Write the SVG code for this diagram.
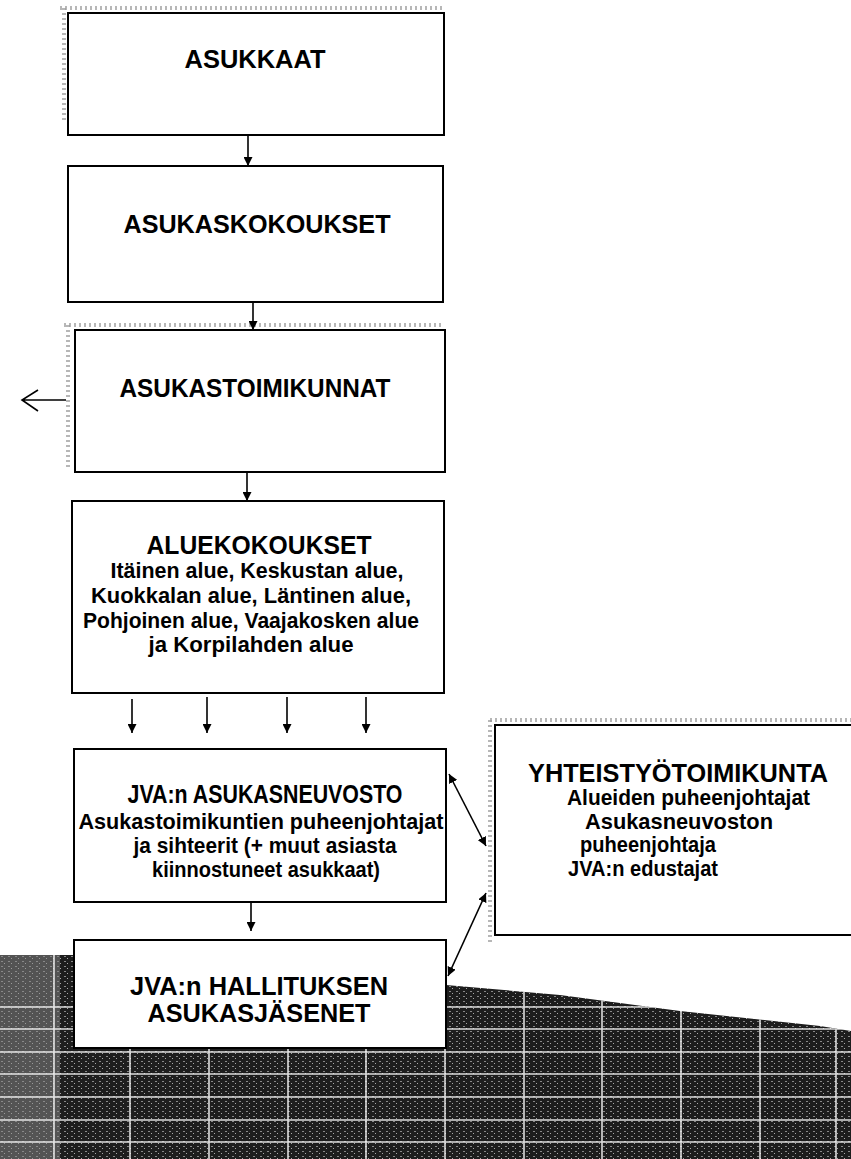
<svg xmlns="http://www.w3.org/2000/svg" width="851" height="1159" viewBox="0 0 851 1159">
<style>
.box{fill:#fff;stroke:#000;stroke-width:2}
.t{font-family:"Liberation Sans",Arial,sans-serif;font-weight:bold;fill:#000}
.c{text-anchor:middle}
.big{font-size:25px}
.sm{font-size:22px}
.ln{stroke:#000;stroke-width:1.6;fill:none}
.noise{stroke:#999;stroke-width:4;stroke-dasharray:2 3;fill:none;opacity:.7}
.grid{stroke:#fff;stroke-width:1.6;opacity:.85}
</style>
<defs>
<marker id="ah" viewBox="0 0 10 10" refX="10" refY="5" markerWidth="9" markerHeight="9" markerUnits="userSpaceOnUse" orient="auto-start-reverse">
<path d="M0,0 L10,5 L0,10 Z" fill="#000"/>
</marker>
<pattern id="speck" width="7" height="5" patternUnits="userSpaceOnUse">
<rect width="7" height="5" fill="#1e1e1e"/>
<rect x="1" y="1" width="2" height="1" fill="#888"/>
<rect x="4" y="3" width="1" height="1" fill="#aaa"/>
</pattern>
<clipPath id="texclip">
<polygon points="0,955 446,955 446,985 560,995 680,1011 820,1026 851,1031 851,1159 0,1159"/>
</clipPath>
</defs>

<g id="texture" clip-path="url(#texclip)">
<rect x="0" y="950" width="851" height="209" fill="url(#speck)"/>
<rect x="0" y="950" width="60" height="209" fill="#8a8a8a" opacity=".5"/>
<g class="grid">
<line x1="0" y1="1007" x2="851" y2="1007"/>
<line x1="0" y1="1029" x2="851" y2="1029"/>
<line x1="0" y1="1052" x2="851" y2="1052"/>
<line x1="0" y1="1074" x2="851" y2="1074"/>
<line x1="0" y1="1097" x2="851" y2="1097"/>
<line x1="0" y1="1120" x2="851" y2="1120"/>
<line x1="0" y1="1142" x2="851" y2="1142"/>
<line x1="54" y1="950" x2="54" y2="1159"/>
<line x1="130" y1="950" x2="130" y2="1159"/>
<line x1="209" y1="950" x2="209" y2="1159"/>
<line x1="288" y1="950" x2="288" y2="1159"/>
<line x1="366" y1="950" x2="366" y2="1159"/>
<line x1="445" y1="950" x2="445" y2="1159"/>
<line x1="524" y1="950" x2="524" y2="1159"/>
<line x1="602" y1="950" x2="602" y2="1159"/>
<line x1="681" y1="950" x2="681" y2="1159"/>
<line x1="760" y1="950" x2="760" y2="1159"/>
<line x1="836" y1="950" x2="836" y2="1159"/>
</g>
</g>

<g id="noise">
<line class="noise" x1="60" y1="8" x2="444" y2="8"/>
<line class="noise" x1="64" y1="8" x2="64" y2="120"/>
<line class="noise" x1="64" y1="325" x2="444" y2="325"/>
<line class="noise" x1="68" y1="325" x2="68" y2="470"/>
<line class="noise" x1="490" y1="720" x2="851" y2="720"/>
<line class="noise" x1="490" y1="720" x2="490" y2="945"/>
</g>

<g id="n1"><rect class="box" x="68" y="13" width="376" height="122"/>
<text class="t c" x="255" y="68" font-size="25" textLength="141" lengthAdjust="spacingAndGlyphs">ASUKKAAT</text></g>

<g id="n2"><rect class="box" x="68" y="166" width="375" height="136"/>
<text class="t c" x="257" y="233" font-size="25" textLength="267" lengthAdjust="spacingAndGlyphs">ASUKASKOKOUKSET</text></g>

<g id="n3"><rect class="box" x="75" y="330" width="370" height="142"/>
<text class="t c" x="255" y="397" font-size="25" textLength="271" lengthAdjust="spacingAndGlyphs">ASUKASTOIMIKUNNAT</text></g>

<g id="n4"><rect class="box" x="72" y="501" width="372" height="192"/>
<text class="t c big" x="259" y="554" textLength="225" lengthAdjust="spacingAndGlyphs">ALUEKOKOUKSET</text>
<text class="t c sm" x="257" y="578" textLength="293" lengthAdjust="spacingAndGlyphs">Itäinen alue, Keskustan alue,</text>
<text class="t c sm" x="251" y="603" textLength="320" lengthAdjust="spacingAndGlyphs">Kuokkalan alue, Läntinen alue,</text>
<text class="t c sm" x="251" y="628" textLength="336" lengthAdjust="spacingAndGlyphs">Pohjoinen alue, Vaajakosken alue</text>
<text class="t c sm" x="251" y="652" textLength="205" lengthAdjust="spacingAndGlyphs">ja Korpilahden alue</text></g>

<g id="n5"><rect class="box" x="74" y="749" width="372" height="153"/>
<text class="t c big" x="265" y="803" textLength="275" lengthAdjust="spacingAndGlyphs">JVA:n ASUKASNEUVOSTO</text>
<text class="t c sm" x="261" y="829" textLength="365" lengthAdjust="spacingAndGlyphs">Asukastoimikuntien puheenjohtajat</text>
<text class="t c sm" x="265" y="853" textLength="263" lengthAdjust="spacingAndGlyphs">ja sihteerit (+ muut asiasta</text>
<text class="t c sm" x="266" y="877" textLength="228" lengthAdjust="spacingAndGlyphs">kiinnostuneet asukkaat)</text></g>

<g id="n6"><rect class="box" x="495" y="725" width="370" height="210"/>
<text class="t big" x="528" y="782" textLength="300" lengthAdjust="spacingAndGlyphs">YHTEISTYÖTOIMIKUNTA</text>
<text class="t sm" x="567" y="805" textLength="243" lengthAdjust="spacingAndGlyphs">Alueiden puheenjohtajat</text>
<text class="t sm" x="585" y="829" textLength="188" lengthAdjust="spacingAndGlyphs">Asukasneuvoston</text>
<text class="t sm" x="580" y="852" textLength="136" lengthAdjust="spacingAndGlyphs">puheenjohtaja</text>
<text class="t sm" x="568" y="876" textLength="150" lengthAdjust="spacingAndGlyphs">JVA:n edustajat</text></g>

<g id="n7"><rect class="box" x="74" y="940" width="372" height="108"/>
<text class="t c big" x="259" y="995" textLength="258" lengthAdjust="spacingAndGlyphs">JVA:n HALLITUKSEN</text>
<text class="t c big" x="259" y="1022" textLength="223" lengthAdjust="spacingAndGlyphs">ASUKASJÄSENET</text></g>

<g id="connectors">
<line class="ln" x1="248" y1="135" x2="248" y2="166" marker-end="url(#ah)"/>
<line class="ln" x1="253" y1="302" x2="253" y2="330" marker-end="url(#ah)"/>
<line class="ln" x1="247" y1="472" x2="247" y2="501" marker-end="url(#ah)"/>
<line class="ln" x1="132" y1="699" x2="132" y2="733" marker-end="url(#ah)"/>
<line class="ln" x1="207" y1="697" x2="207" y2="733" marker-end="url(#ah)"/>
<line class="ln" x1="287" y1="697" x2="287" y2="733" marker-end="url(#ah)"/>
<line class="ln" x1="366" y1="697" x2="366" y2="733" marker-end="url(#ah)"/>
<line class="ln" x1="251" y1="902" x2="251" y2="931" marker-end="url(#ah)"/>
<line class="ln" x1="449" y1="774" x2="486" y2="846" marker-start="url(#ah)" marker-end="url(#ah)"/>
<line class="ln" x1="486" y1="893" x2="448" y2="976" marker-start="url(#ah)" marker-end="url(#ah)"/>
<path class="ln" d="M66,400 H22 M38,390 L22,400 L38,411" stroke-width="2"/>
</g>
</svg>
